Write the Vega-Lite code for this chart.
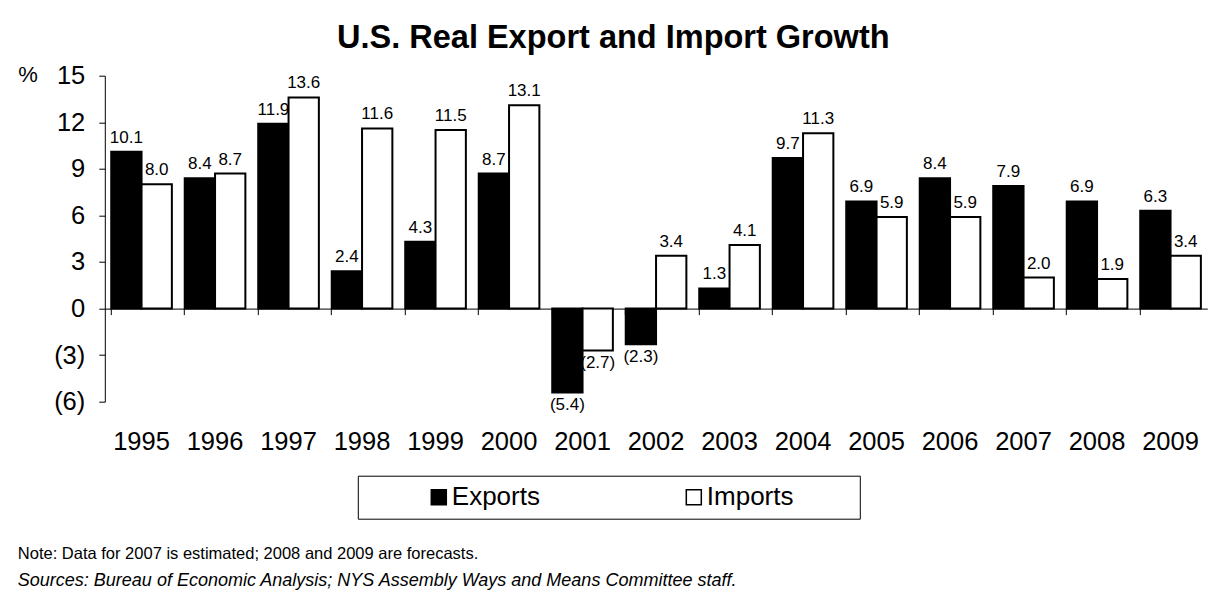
{
  "$schema": "https://vega.github.io/schema/vega-lite/v6.json",
  "width": 1102.5,
  "height": 326,
  "autosize": {"type": "none"},
  "padding": {"left": 104.8, "top": 75.7, "right": 16.7, "bottom": 204.3},
  "background": "white",
  "title": {
    "text": "Note: Data for 2007 is estimated; 2008 and 2009 are forecasts.",
    "subtitle": "Sources: Bureau of Economic Analysis; NYS Assembly Ways and Means Committee staff.",
    "orient": "bottom",
    "anchor": "start",
    "frame": "bounds",
    "offset": 27,
    "font": "Liberation Sans",
    "fontSize": 16.5,
    "fontWeight": "normal",
    "color": "black",
    "subtitleFont": "Liberation Sans",
    "subtitleFontSize": 18,
    "subtitleFontStyle": "italic",
    "subtitleColor": "black",
    "subtitlePadding": 9.5
  },
  "data": {
    "values": [
      {"year": "1995", "series": "Exports", "value": 10.1},
      {"year": "1995", "series": "Imports", "value": 8.0},
      {"year": "1996", "series": "Exports", "value": 8.4},
      {"year": "1996", "series": "Imports", "value": 8.7},
      {"year": "1997", "series": "Exports", "value": 11.9},
      {"year": "1997", "series": "Imports", "value": 13.6},
      {"year": "1998", "series": "Exports", "value": 2.4},
      {"year": "1998", "series": "Imports", "value": 11.6},
      {"year": "1999", "series": "Exports", "value": 4.3},
      {"year": "1999", "series": "Imports", "value": 11.5},
      {"year": "2000", "series": "Exports", "value": 8.7},
      {"year": "2000", "series": "Imports", "value": 13.1},
      {"year": "2001", "series": "Exports", "value": -5.4},
      {"year": "2001", "series": "Imports", "value": -2.7},
      {"year": "2002", "series": "Exports", "value": -2.3},
      {"year": "2002", "series": "Imports", "value": 3.4},
      {"year": "2003", "series": "Exports", "value": 1.3},
      {"year": "2003", "series": "Imports", "value": 4.1},
      {"year": "2004", "series": "Exports", "value": 9.7},
      {"year": "2004", "series": "Imports", "value": 11.3},
      {"year": "2005", "series": "Exports", "value": 6.9},
      {"year": "2005", "series": "Imports", "value": 5.9},
      {"year": "2006", "series": "Exports", "value": 8.4},
      {"year": "2006", "series": "Imports", "value": 5.9},
      {"year": "2007", "series": "Exports", "value": 7.9},
      {"year": "2007", "series": "Imports", "value": 2.0},
      {"year": "2008", "series": "Exports", "value": 6.9},
      {"year": "2008", "series": "Imports", "value": 1.9},
      {"year": "2009", "series": "Exports", "value": 6.3},
      {"year": "2009", "series": "Imports", "value": 3.4}
    ]
  },
  "encoding": {
    "xOffset": {"field": "series", "type": "nominal", "scale": {"paddingInner": 0, "paddingOuter": 0}},
    "y": {
      "field": "value",
      "type": "quantitative",
      "scale": {"domain": [-6, 15], "nice": false, "zero": false},
      "axis": {
        "values": [-6, -3, 0, 3, 6, 9, 12, 15],
        "format": "(d",
        "grid": false,
        "domainColor": "black",
        "domainWidth": 1,
        "tickColor": "black",
        "tickSize": 6,
        "labelFont": "Liberation Sans",
        "labelFontSize": 25.5,
        "labelColor": "black",
        "labelPadding": 14,
        "title": "%",
        "titleAngle": 0,
        "titleX": -87,
        "titleY": -1,
        "titleAlign": "left",
        "titleBaseline": "middle",
        "titleFont": "Liberation Sans",
        "titleFontSize": 22,
        "titleFontWeight": "normal",
        "titleColor": "black"
      }
    }
  },
  "layer": [
    {
      "mark": {"type": "bar", "stroke": "black", "strokeWidth": 2},
      "encoding": {
        "x": {
          "field": "year",
          "type": "nominal",
          "scale": {"paddingInner": 0.175, "paddingOuter": 0.0875},
          "axis": {
            "orient": "bottom",
            "domain": false,
            "ticks": false,
            "labelAngle": 0,
            "labelFont": "Liberation Sans",
            "labelFontSize": 25.5,
            "labelColor": "black",
            "labelBaseline": "middle",
            "labelPadding": 40,
            "title": null
          }
        },
        "color": {
          "field": "series",
          "type": "nominal",
          "scale": {"domain": ["Exports", "Imports"], "range": ["black", "white"]},
          "legend": {
            "orient": "none",
            "legendX": 253,
            "legendY": 400,
            "direction": "horizontal",
            "title": null,
            "strokeColor": "black",
            "padding": 8.5,
            "symbolType": "square",
            "symbolSize": 225,
            "symbolStrokeColor": "black",
            "symbolStrokeWidth": 1.5,
            "symbolOffset": 59.5,
            "labelOffset": 0,
            "labelFont": "Liberation Sans",
            "labelFontSize": 26,
            "labelColor": "black",
            "labelExpr": "datum.label == 'Imports' ? datum.label + '\u00a0\u00a0\u00a0\u00a0\u00a0\u00a0\u00a0\u00a0\u200b' : datum.label",
            "columnPadding": 81
          }
        }
      }
    },
    {
      "transform": [{"filter": "datum.value >= 0"}],
      "mark": {"type": "text", "baseline": "alphabetic", "dy": -9, "font": "Liberation Sans", "fontSize": 17, "color": "black"},
      "encoding": {
        "x": {
          "field": "year",
          "type": "nominal",
          "axis": {
            "orient": "bottom",
            "offset": -93.1,
            "domain": true,
            "domainColor": "black",
            "domainWidth": 1,
            "ticks": true,
            "tickColor": "black",
            "tickSize": 6,
            "bandPosition": 0,
            "labels": false,
            "title": null
          }
        },
        "text": {"field": "value", "type": "quantitative", "format": "(.1f"}
      }
    },
    {
      "transform": [{"filter": "datum.value < 0"}],
      "mark": {"type": "text", "baseline": "top", "dy": 5, "font": "Liberation Sans", "fontSize": 17, "color": "black"},
      "encoding": {
        "x": {
          "field": "year",
          "type": "nominal",
          "axis": {
            "orient": "top",
            "domain": false,
            "ticks": false,
            "labels": false,
            "title": "U.S. Real Export and Import Growth",
            "titleFont": "Liberation Sans",
            "titleFontSize": 32.5,
            "titleFontWeight": "bold",
            "titleColor": "black",
            "titleX": 508,
            "titleY": -38,
            "titleAlign": "center",
            "titleBaseline": "middle"
          }
        },
        "text": {"field": "value", "type": "quantitative", "format": "(.1f"}
      }
    }
  ],
  "resolve": {"axis": {"x": "independent"}},
  "config": {"view": {"stroke": null}}
}
